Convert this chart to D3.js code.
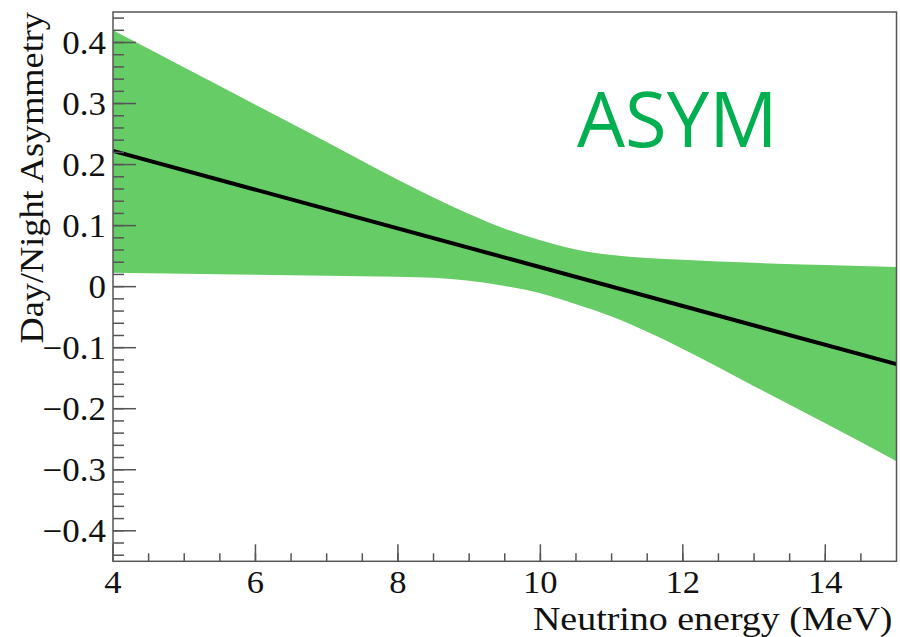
<!DOCTYPE html>
<html><head><meta charset="utf-8">
<script src="https://cdn.jsdelivr.net/npm/d3@7"></script>
<style>html,body{margin:0;padding:0;background:#fff;}svg{display:block;}</style>
</head><body>
<svg id="chart" width="900" height="637"></svg>
<script>
// Energy grid (MeV) for the uncertainty band
const energy = [4, 5, 6, 7, 8, 8.5, 9, 9.5, 10, 10.5, 11, 11.5, 12, 13, 14, 15];
const bandUpper = [0.420, 0.359, 0.298, 0.237, 0.175, 0.146, 0.119, 0.095, 0.076, 0.061, 0.052, 0.047, 0.044, 0.039, 0.0355, 0.032];
const bandLower = [0.0226, 0.0213, 0.0197, 0.018, 0.0164, 0.0145, 0.0095, 0.001, -0.011, -0.029, -0.049, -0.074, -0.102, -0.163, -0.224, -0.286];
// Central fitted line
const lineEnergy = [4, 15];
const lineValue = [0.2224, -0.127];
// Axis ticks
const xTicks = [4, 6, 8, 10, 12, 14];
const yTicks = [-0.4, -0.3, -0.2, -0.1, 0, 0.1, 0.2, 0.3, 0.4];
const xTitle = "Neutrino energy (MeV)";
const yTitle = "Day/Night Asymmetry";
const tag = "ASYM";

const svg = d3.select("#chart");
const L = 113, R = 896.5, T = 12, B = 561.3;
const x = d3.scaleLinear().domain([4, 15]).range([L, R]);
const y = d3.scaleLinear().domain([-0.45, 0.45]).range([B, T]);

const band = energy.map((e, i) => ({e, lo: bandLower[i], hi: bandUpper[i]}));
const area = d3.area().x(d => x(d.e)).y0(d => y(d.lo)).y1(d => y(d.hi)).curve(d3.curveMonotoneX);
svg.append("path").datum(band).attr("d", area).attr("fill", "#66cc66");

const ln = lineEnergy.map((e, i) => ({e, v: lineValue[i]}));
svg.append("path").datum(ln)
  .attr("d", d3.line().x(d => x(d.e)).y(d => y(d.v)))
  .attr("fill", "none").attr("stroke", "#000").attr("stroke-width", 4);

const axisCol = "#555";
const yMinor = d3.range(-0.44, 0.4401, 0.02);
svg.append("g").selectAll("line").data(yMinor).join("line")
  .attr("x1", L).attr("x2", L + 11).attr("y1", d => y(d)).attr("y2", d => y(d))
  .attr("stroke", axisCol).attr("stroke-width", 1.5);
svg.append("g").selectAll("line").data(yTicks).join("line")
  .attr("x1", L).attr("x2", L + 23).attr("y1", d => y(d)).attr("y2", d => y(d))
  .attr("stroke", axisCol).attr("stroke-width", 1.5);
const xMinor = d3.range(4.5, 15, 0.5);
svg.append("g").selectAll("line").data(xMinor).join("line")
  .attr("x1", d => x(d)).attr("x2", d => x(d)).attr("y1", B).attr("y2", B - 8)
  .attr("stroke", axisCol).attr("stroke-width", 1.5);
svg.append("g").selectAll("line").data(xTicks).join("line")
  .attr("x1", d => x(d)).attr("x2", d => x(d)).attr("y1", B).attr("y2", B - 17)
  .attr("stroke", axisCol).attr("stroke-width", 1.5);

svg.append("rect").attr("x", L).attr("y", T).attr("width", R - L).attr("height", B - T)
  .attr("fill", "none").attr("stroke", axisCol).attr("stroke-width", 1.5);

const font = "'Liberation Serif','Times New Roman',serif";
const fmtY = d => d === 0 ? "0" : (d < 0 ? "\u2212" : "") + Math.abs(d).toFixed(1);
svg.append("g").selectAll("text").data(yTicks).join("text")
  .attr("transform", d => `translate(${L - 7},${y(d)}) scale(1.06,1)`)
  .attr("dy", "0.35em").attr("text-anchor", "end")
  .attr("font-family", font).attr("font-size", 33).attr("fill", "#111")
  .text(fmtY);
svg.append("g").selectAll("text").data(xTicks).join("text")
  .attr("transform", d => `translate(${x(d)},${B + 32}) scale(1.08,1)`)
  .attr("text-anchor", "middle")
  .attr("font-family", font).attr("font-size", 32).attr("fill", "#111")
  .text(d => d);

svg.append("text").attr("transform", `translate(${R - 4},630) scale(1.15,1)`)
  .attr("text-anchor", "end").attr("font-family", font).attr("font-size", 33).attr("fill", "#111")
  .text(xTitle);
svg.append("text").attr("transform", `translate(43,${T}) rotate(-90) scale(1.1,1)`)
  .attr("text-anchor", "end").attr("font-family", font).attr("font-size", 33).attr("fill", "#111")
  .text(yTitle);

svg.append("text").attr("x", 577).attr("y", 147)
  .attr("font-family", "'Open Sans',sans-serif").attr("font-size", 76).attr("fill", "#00b050")
  .text(tag);
</script>
</body></html>
